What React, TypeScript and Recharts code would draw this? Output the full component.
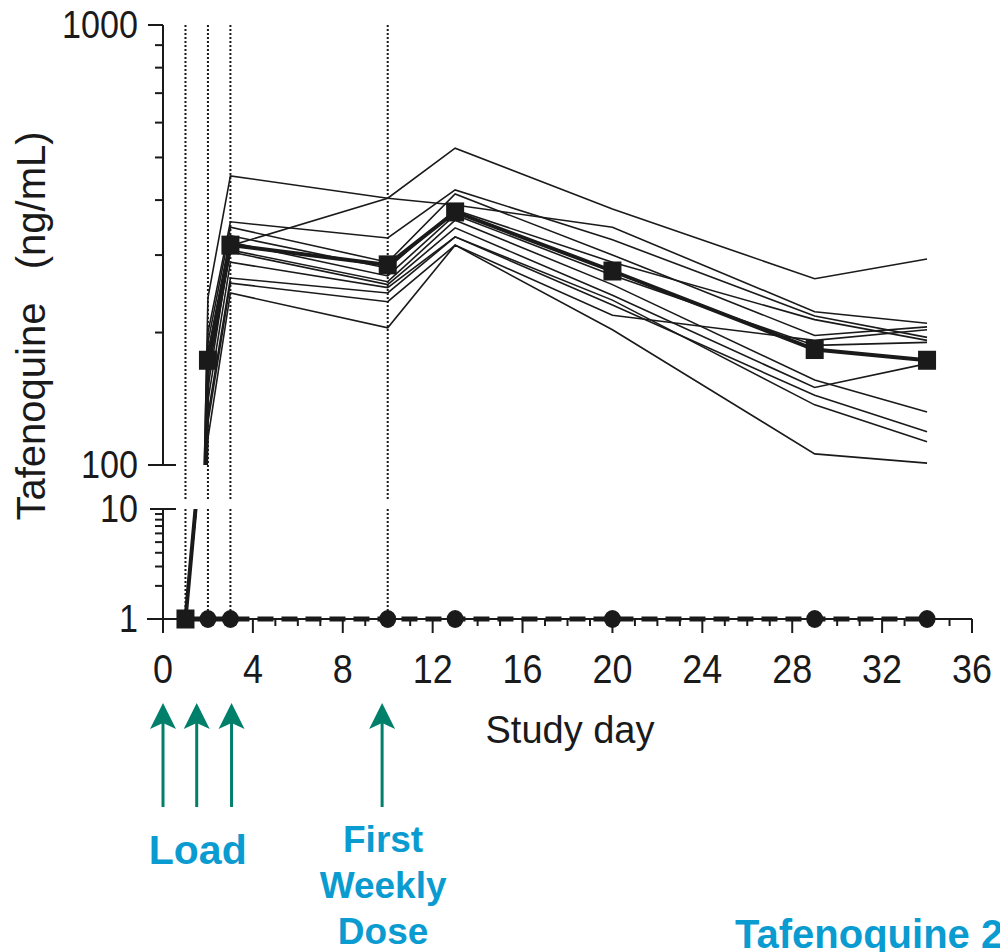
import React from 'react';
import { LineChart, Line, XAxis, YAxis, Scatter, ReferenceLine } from 'recharts';

// ---------- data ----------
const studyDays = [1, 2, 3, 10, 13, 20, 29, 34];

const subject01 = [1, 150, 315, 404, 525, 382, 265, 294];
const subject02 = [1, 240, 454, 404, 390, 347, 223, 210];
const subject03 = [1, 200, 357, 328, 422, 325, 218, 195];
const subject04 = [1, 190, 347, 289, 413, 300, 197, 206];
const subject05 = [1, 180, 332, 280, 380, 289, 214, 192];
const subject06 = [1, 170, 321, 269, 370, 270, 187, 190];
const subject07 = [1, 165, 308, 261, 360, 257, 156, 132];
const subject08 = [1, 160, 305, 257, 346, 243, 150, 170];
const subject09 = [1, 140, 289, 253, 330, 231, 144, 119];
const subject10 = [1, 130, 266, 246, 330, 237, 137, 113];
const subject11 = [1, 125, 259, 235, 316, 219, 192, 203];
const subject12 = [1, 115, 246, 205, 316, 203, 106, 101];
const tafenoquineMean = [1, 173, 316, 285, 376, 276, 183, 173];
const placeboValues = [1, 1, 1, 1, 1, 1, 1, 1];

const dosingLineDays = [1, 2, 3, 10];
const doseArrowDays = [0, 1.5, 3.05, 9.75];
const doseArrowLabels = [[], ['Load'], [], ['First', 'Weekly', 'Dose']];

const xTicks = [0, 1, 2, 3, 4, 5, 6, 7, 8, 9, 10, 11, 12, 13, 14, 15, 16, 17, 18, 19, 20, 21, 22, 23, 24, 25, 26, 27, 28, 29, 30, 31, 32, 33, 34, 35, 36];
const upperTicks = [100, 200, 300, 400, 500, 600, 700, 800, 900, 1000];
const lowerTicks = [1, 2, 3, 4, 5, 6, 7, 8, 9, 10];

const subjects = [subject01, subject02, subject03, subject04, subject05, subject06, subject07, subject08, subject09, subject10, subject11, subject12];

const toPoints = (vals: number[]) => studyDays.map((d, i) => ({ day: d, v: vals[i] }));

// ---------- style ----------
const FONT = '"Liberation Sans", Arial, Helvetica, sans-serif';
const INK = '#1a1a1a';
const BLUE = '#0a9bd0';
const TEAL = '#00806b';
const BREAK_GAP = 44;

function UpperYTick(props: any) {
  const { x, y, payload } = props;
  const v = payload.value;
  if (v === 1000 || v === 100) {
    const right = v === 100 ? 13 : 0;
    return (
      <g>
        <line x1={x - 15} x2={x + right} y1={y} y2={y} stroke={INK} strokeWidth={2} />
        <text x={x - 25} y={y} dy={13} textAnchor="end" fontSize={38} fontFamily={FONT} fill={INK}
          textLength={String(v).length * 19} lengthAdjust="spacingAndGlyphs">{v}</text>
      </g>
    );
  }
  return <line x1={x - 8} x2={x} y1={y} y2={y} stroke={INK} strokeWidth={2} />;
}

function LowerYTick(props: any) {
  const { x, y, payload } = props;
  const v = payload.value;
  if (v === 10 || v === 1) {
    const right = v === 10 ? 13 : 0;
    const left = v === 10 ? 13 : 16;
    return (
      <g>
        <line x1={x - left} x2={x + right} y1={y} y2={y} stroke={INK} strokeWidth={2} />
        <text x={x - 25} y={y} dy={13} textAnchor="end" fontSize={38} fontFamily={FONT} fill={INK}
          textLength={String(v).length * 19} lengthAdjust="spacingAndGlyphs">{v}</text>
      </g>
    );
  }
  return <line x1={x - 8} x2={x} y1={y} y2={y} stroke={INK} strokeWidth={2} />;
}

function XTick(props: any) {
  const { x, y, payload } = props;
  const d = payload.value;
  const major = d % 4 === 0;
  return (
    <g>
      <line x1={x} x2={x} y1={y} y2={y + (major ? 14 : 7)} stroke={INK} strokeWidth={2} />
      {major && (
        <text x={x} y={y + 64} textAnchor="middle" fontSize={40} fontFamily={FONT} fill={INK}
          textLength={String(d).length * 20} lengthAdjust="spacingAndGlyphs">{d}</text>
      )}
    </g>
  );
}

const squareShape = (p: any) => <rect x={p.cx - 9} y={p.cy - 9.5} width={18} height={19} fill={INK} />;
const circleShape = (p: any) => <ellipse cx={p.cx} cy={p.cy} rx={8.5} ry={9} fill={INK} />;

function DoseArrow(props: any) {
  const { x1, y1, y2, lines } = props;
  const base = Math.max(y1, y2);
  const tip = base + 84;
  const headBase = base + 110;
  const bottom = base + 188;
  const big = lines.length === 1;
  return (
    <g>
      <line x1={x1} x2={x1} y1={headBase - 6} y2={bottom} stroke={TEAL} strokeWidth={3} />
      <polygon points={`${x1},${tip} ${x1 - 13},${headBase} ${x1},${headBase - 6} ${x1 + 13},${headBase}`} fill={TEAL} />
      {lines.map((t: string, i: number) => (
        <text key={t} x={x1 + 1} y={big ? base + 245 : base + 233 + i * 46} textAnchor="middle"
          fontSize={big ? 41 : 37} fontWeight="bold" fontFamily={FONT} fill={BLUE}>{t}</text>
      ))}
    </g>
  );
}

const dottedUpper = (p: any) => (
  <line x1={p.x1} x2={p.x2} y1={Math.min(p.y1, p.y2)} y2={Math.max(p.y1, p.y2) + BREAK_GAP}
    stroke={INK} strokeWidth={2} strokeDasharray="2 2" />
);
const dottedLower = (p: any) => (
  <line x1={p.x1} x2={p.x2} y1={Math.min(p.y1, p.y2)} y2={Math.max(p.y1, p.y2)}
    stroke={INK} strokeWidth={2} strokeDasharray="2 2" />
);

export default function App() {
  const meanPts = toPoints(tafenoquineMean);
  const placeboPts = toPoints(placeboValues);
  return (
    <div style={{ position: 'absolute', left: 0, top: 0, width: 1000, height: 952, background: '#fff', overflow: 'hidden' }}>
      {/* upper segment: 100 - 1000 */}
      <div style={{ position: 'absolute', left: 0, top: 0 }}>
        <LineChart width={1000} height={500} margin={{ top: 25, right: 28, bottom: 35, left: 0 }}>
          <XAxis xAxisId={0} type="number" dataKey="day" domain={[0, 36]} hide allowDataOverflow />
          <YAxis yAxisId="c" type="number" dataKey="v" scale="log" domain={[100, 1000]} allowDataOverflow
            ticks={upperTicks} interval={0} width={163} tickSize={0} tickMargin={0} tickLine={false}
            axisLine={{ stroke: INK, strokeWidth: 2 }} tick={<UpperYTick />} />
          <YAxis yAxisId="f" type="number" dataKey="v" scale="log" domain={[100, 1000]} hide />
          {dosingLineDays.map((d) => (
            <ReferenceLine key={d} x={d} yAxisId="c" shape={dottedUpper} />
          ))}
          {subjects.map((s, i) => (
            <Line key={i} yAxisId="c" data={toPoints(s)} dataKey="v" stroke={INK} strokeWidth={1.6}
              dot={false} activeDot={false} isAnimationActive={false} />
          ))}
          <Line yAxisId="c" data={meanPts} dataKey="v" stroke={INK} strokeWidth={4}
            dot={false} activeDot={false} isAnimationActive={false} />
          <Scatter yAxisId="f" data={meanPts.filter((p) => p.v >= 100)} dataKey="v" shape={squareShape} isAnimationActive={false} />
        </LineChart>
      </div>

      {/* lower segment: 1 - 10 */}
      <div style={{ position: 'absolute', left: 0, top: 0 }}>
        <LineChart width={1000} height={952} margin={{ top: 509, right: 28, bottom: 252, left: 0 }}>
          <XAxis xAxisId={0} type="number" dataKey="day" domain={[0, 36]} ticks={xTicks} interval={0}
            height={81} tickSize={0} tickMargin={0} tickLine={false}
            axisLine={{ stroke: INK, strokeWidth: 2 }} tick={<XTick />} />
          <YAxis yAxisId="c" type="number" dataKey="v" scale="log" domain={[1, 10]} allowDataOverflow
            ticks={lowerTicks} interval={0} width={163} tickSize={0} tickMargin={0} tickLine={false}
            axisLine={{ stroke: INK, strokeWidth: 2 }} tick={<LowerYTick />} />
          <YAxis yAxisId="f" type="number" dataKey="v" scale="log" domain={[1, 10]} hide />
          {dosingLineDays.map((d) => (
            <ReferenceLine key={d} x={d} yAxisId="c" shape={dottedLower} />
          ))}
          {doseArrowDays.map((d, i) => (
            <ReferenceLine key={'a' + i} x={d} yAxisId="c"
              shape={(p: any) => <DoseArrow {...p} lines={doseArrowLabels[i]} />} />
          ))}
          {subjects.map((s, i) => (
            <Line key={i} yAxisId="c" data={toPoints(s)} dataKey="v" stroke={INK} strokeWidth={1.6}
              dot={false} activeDot={false} isAnimationActive={false} />
          ))}
          <Line yAxisId="c" data={meanPts} dataKey="v" stroke={INK} strokeWidth={4}
            dot={false} activeDot={false} isAnimationActive={false} />
          <Line yAxisId="f" data={placeboPts} dataKey="v" stroke={INK} strokeWidth={5} strokeDasharray="16 8"
            dot={false} activeDot={false} isAnimationActive={false} />
          <Scatter yAxisId="f" data={placeboPts} dataKey="v" shape={circleShape} isAnimationActive={false} />
          <Scatter yAxisId="f" data={meanPts.filter((p) => p.v <= 10)} dataKey="v" shape={squareShape} isAnimationActive={false} />
        </LineChart>
      </div>

      {/* titles */}
      <svg width={1000} height={952} style={{ position: 'absolute', left: 0, top: 0, pointerEvents: 'none' }}>
        <text transform="translate(45,326) rotate(-90)" textAnchor="middle" fontSize={40} fontFamily={FONT} fill={INK}>
          {'Tafenoquine\u00A0\u00A0\u00A0(ng/mL)'}
        </text>
        <text x={570} y={743} textAnchor="middle" fontSize={38} fontFamily={FONT} fill={INK}>Study day</text>
        <text x={735} y={948} fontSize={40} fontWeight="bold" fontFamily={FONT} fill={BLUE}>Tafenoquine 200 mg</text>
      </svg>
    </div>
  );
}
